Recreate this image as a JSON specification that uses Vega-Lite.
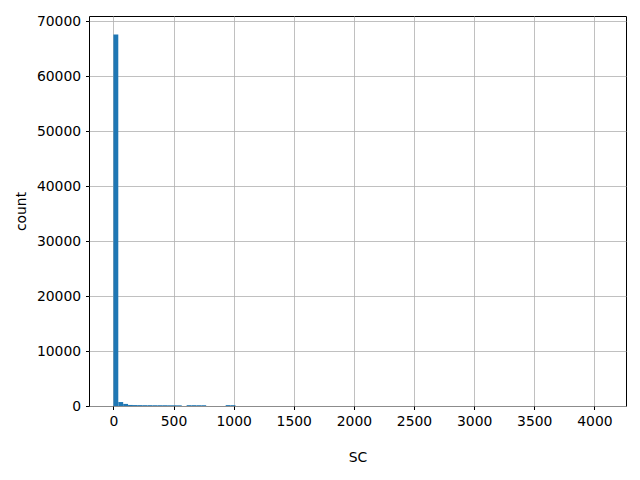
{
  "$schema": "https://vega.github.io/schema/vega-lite/v6.json",
  "width": 537,
  "height": 390,
  "autosize": {"type": "none"},
  "padding": {"left": 89, "top": 16, "right": 14, "bottom": 74},
  "config": {
    "view": {"stroke": "black", "strokeWidth": 1},
    "font": "DejaVu Sans",
    "axis": {
      "labelFont": "DejaVu Sans",
      "titleFont": "DejaVu Sans",
      "labelFontSize": 13.9,
      "titleFontSize": 13.9,
      "titleFontWeight": "normal",
      "labelColor": "black",
      "titleColor": "black",
      "tickColor": "black",
      "domainColor": "black",
      "tickSize": 3.5,
      "labelPadding": 4.9,
      "gridColor": "#b0b0b0",
      "gridWidth": 0.8,
      "domain": false
    }
  },
  "data": {
    "values": [
      {"bin_start": 0, "bin_end": 40.6, "count": 67580},
      {"bin_start": 40.6, "bin_end": 81.2, "count": 720},
      {"bin_start": 81.2, "bin_end": 121.8, "count": 380},
      {"bin_start": 121.8, "bin_end": 162.4, "count": 190},
      {"bin_start": 162.4, "bin_end": 203.0, "count": 170},
      {"bin_start": 203.0, "bin_end": 243.6, "count": 160},
      {"bin_start": 243.6, "bin_end": 284.2, "count": 150},
      {"bin_start": 284.2, "bin_end": 324.8, "count": 150},
      {"bin_start": 324.8, "bin_end": 365.4, "count": 140},
      {"bin_start": 365.4, "bin_end": 406.0, "count": 140},
      {"bin_start": 406.0, "bin_end": 446.6, "count": 140},
      {"bin_start": 446.6, "bin_end": 487.2, "count": 130},
      {"bin_start": 487.2, "bin_end": 527.8, "count": 130},
      {"bin_start": 527.8, "bin_end": 568.4, "count": 120},
      {"bin_start": 609.0, "bin_end": 649.6, "count": 150},
      {"bin_start": 649.6, "bin_end": 690.2, "count": 150},
      {"bin_start": 690.2, "bin_end": 730.8, "count": 140},
      {"bin_start": 730.8, "bin_end": 771.4, "count": 140},
      {"bin_start": 933.8, "bin_end": 974.4, "count": 160},
      {"bin_start": 974.4, "bin_end": 1015.0, "count": 150}
    ]
  },
  "mark": {"type": "rect", "color": "#1f77b4"},
  "encoding": {
    "x": {
      "field": "bin_start",
      "type": "quantitative",
      "scale": {"domain": [-203, 4263], "nice": false, "zero": false},
      "axis": {"title": "SC", "format": "d", "values": [0, 500, 1000, 1500, 2000, 2500, 3000, 3500, 4000], "titlePadding": 22}
    },
    "x2": {"field": "bin_end"},
    "y": {
      "field": "count",
      "type": "quantitative",
      "scale": {"domain": [0, 70960], "nice": false},
      "axis": {"title": "count", "format": "d", "values": [0, 10000, 20000, 30000, 40000, 50000, 60000, 70000], "titlePadding": 8}
    },
    "y2": {"datum": 0}
  }
}
